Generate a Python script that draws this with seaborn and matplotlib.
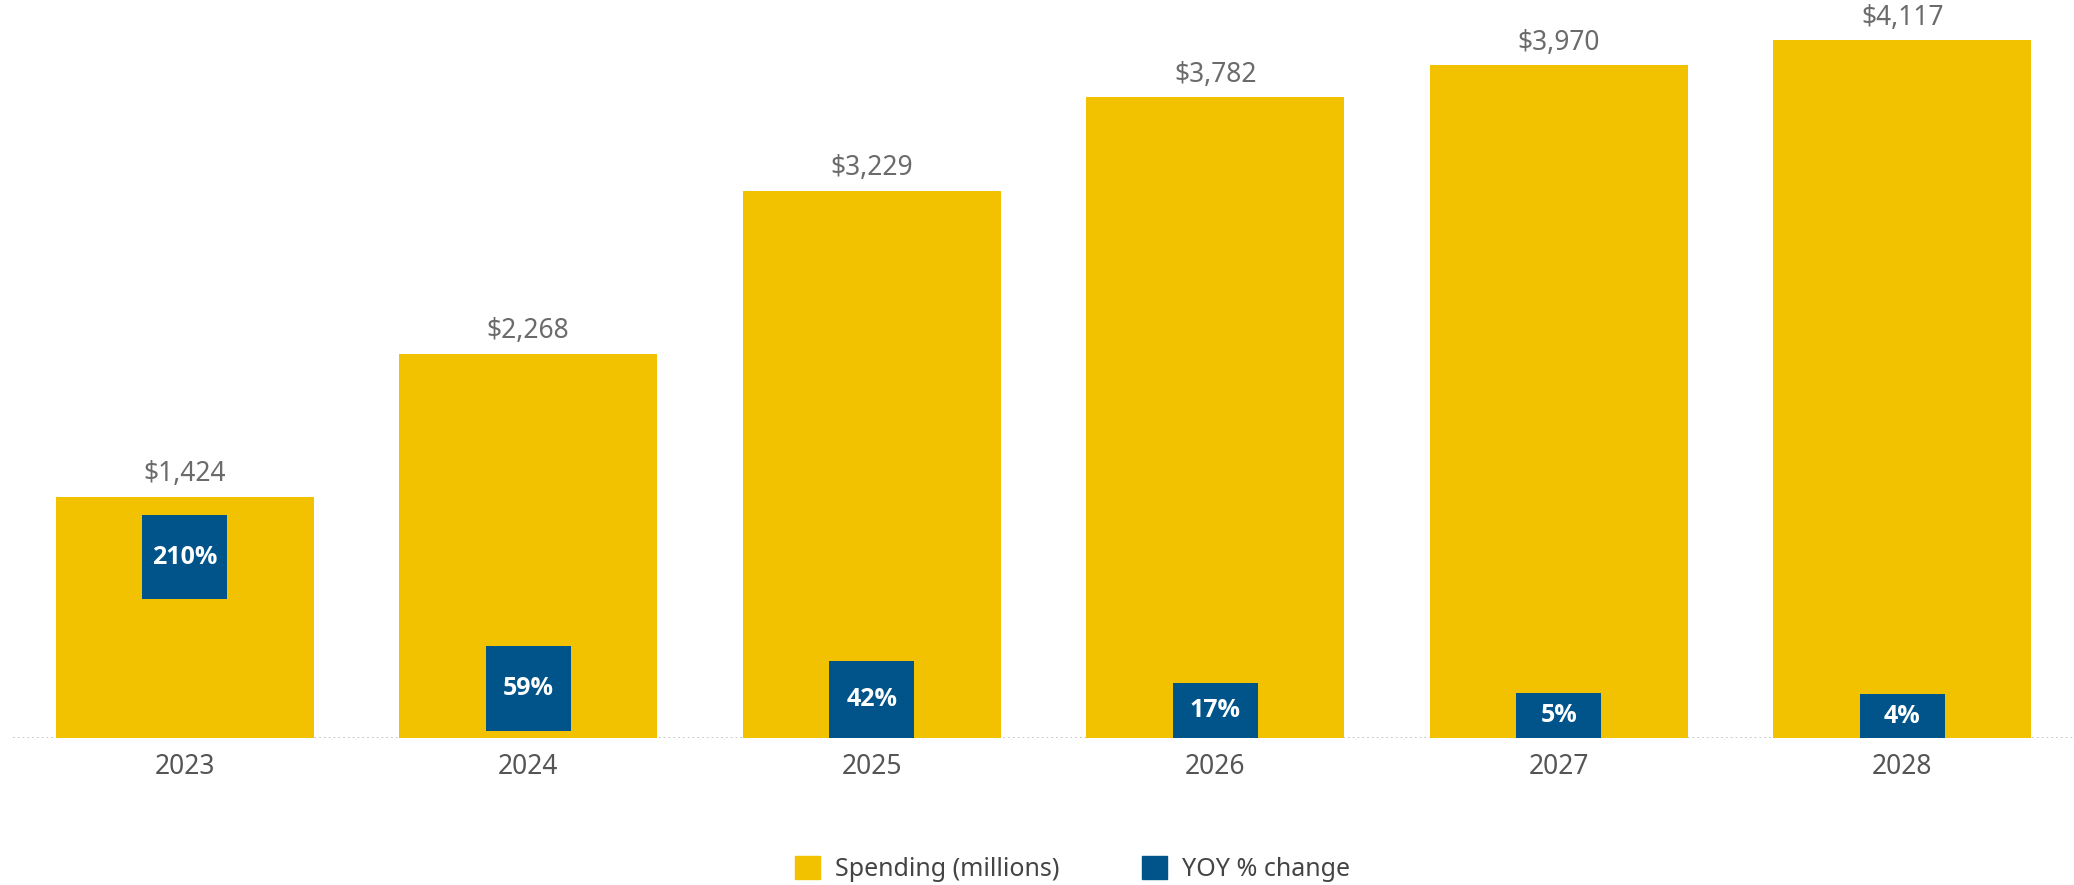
import numpy as np
import pandas as pd
import matplotlib.pyplot as plt
import seaborn as sns
from matplotlib.patches import Patch

yellow = '#f2c200'
blue = '#00548a'

years = ['2023', '2024', '2025', '2026', '2027', '2028']
spending = [1424, 2268, 3229, 3782, 3970, 4117]
yoy = [210, 59, 42, 17, 5, 4]

df = pd.DataFrame({'year': years, 'spending': spending, 'yoy': yoy})

sns.set_style('white')
plt.rcParams['font.family'] = ['Noto Sans', 'DejaVu Sans']

fig = plt.figure(figsize=(20.74, 8.85), dpi=100)
ax = fig.add_axes([13 / 2074, 147 / 885, 1 - 13 / 2074, 738 / 885])

sns.barplot(data=df, x='year', y='spending', color=yellow, width=0.75,
            saturation=1, linewidth=0, ax=ax)
ax.set_ylim(0, 4354)
ax.set_xlim(-0.5, 5.5)
ax.bar_label(ax.containers[0], labels=[f'${v:,}' for v in spending],
             padding=6, color='#6b6b6b', fontsize=19)

# yoy boxes on a second scale, a box no taller than ~97 points
ax2 = ax.twinx()
sns.barplot(data=df, x='year', y='yoy', color=blue, width=0.247,
            saturation=1, linewidth=0, ax=ax2)
y0 = -46.2
ax2.set_ylim(y0, y0 + 848)
box_max = 97
for p, v in zip(ax2.patches, yoy):
    h = min(v - y0, box_max)
    p.set_y(v - h)
    p.set_height(h)
    ax2.text(p.get_x() + p.get_width() / 2, v - h / 2, f'{v}%',
             ha='center', va='center', color='white', fontsize=18,
             fontweight='bold', family=['Open Sans', 'DejaVu Sans'])

for a in (ax, ax2):
    for s in a.spines.values():
        s.set_visible(False)
    a.set_yticks([])
    a.set_ylabel('')
    a.set_xlabel('')
ax2.set_xlim(-0.5, 5.5)

ax.axhline(0, color='#c4c4c4', linestyle=':', lw=1.3, zorder=0.5)
ax.set_xticks(np.arange(-0.5, 6, 1), minor=True)
ax.tick_params(axis='x', which='major', length=0, pad=11,
               labelsize=19, labelcolor='#555555')
ax.tick_params(axis='x', which='minor', length=12, width=1, color='#e0e0e0')

handles = [Patch(color=yellow, label='Spending (millions)'),
           Patch(color=blue, label='YOY % change')]
fig.legend(handles=handles, loc='lower center', ncol=2, frameon=False,
           bbox_to_anchor=(0.517, -0.022), fontsize=18, handlelength=1,
           handleheight=1, handletextpad=0.6, columnspacing=3.3,
           labelcolor='#444444')

fig.savefig('out.png', dpi=100)
